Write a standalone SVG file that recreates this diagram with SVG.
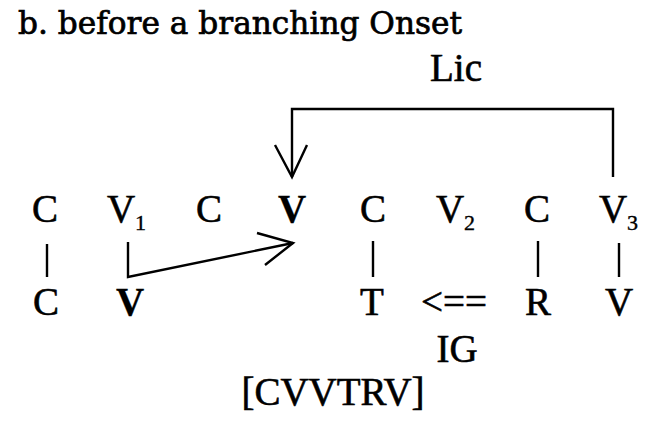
<svg xmlns="http://www.w3.org/2000/svg" width="658" height="440" viewBox="0 0 658 440">
<style>
text { font-family: "Liberation Serif", "Times New Roman", serif; fill: #000; stroke: #000; stroke-width: 0.6; }
.seg { font-size: 39px; text-anchor: middle; }
.b { font-weight: bold; stroke-width: 0.3; }
.sub { font-size: 22px; text-anchor: start; stroke-width: 0.4; }
.title { font-family: "DejaVu Serif", "Liberation Serif", serif; font-size: 31px; stroke-width: 0.7; }
.ln { stroke: #000; stroke-width: 2.4; fill: none; stroke-linecap: butt; stroke-linejoin: miter; }
</style>
<rect width="658" height="440" fill="#fff"/>
<g id="title"><text class="title" x="18" y="34" textLength="444" lengthAdjust="spacingAndGlyphs">b. before a branching Onset</text></g>
<g id="lic-label"><text class="seg" x="456" y="81">Lic</text></g>
<g id="top-C1"><text class="seg" x="45" y="222">C</text></g>
<g id="top-V1"><text class="seg" x="121" y="222">V</text><text class="sub" x="135" y="230">1</text></g>
<g id="top-C2"><text class="seg" x="209" y="222">C</text></g>
<g id="top-V"><text class="seg b" x="292" y="222">V</text></g>
<g id="top-C3"><text class="seg" x="373" y="222">C</text></g>
<g id="top-V2"><text class="seg" x="450" y="222">V</text><text class="sub" x="464" y="230">2</text></g>
<g id="top-C4"><text class="seg" x="537" y="222">C</text></g>
<g id="top-V3"><text class="seg" x="613" y="222">V</text><text class="sub" x="627" y="230">3</text></g>
<g id="bot-C"><text class="seg" x="46" y="315">C</text></g>
<g id="bot-V"><text class="seg b" x="130" y="315">V</text></g>
<g id="bot-T"><text class="seg" x="372" y="315">T</text></g>
<g id="bot-arrow"><text class="seg" x="454" y="315">&lt;==</text></g>
<g id="bot-R"><text class="seg" x="538" y="315">R</text></g>
<g id="bot-V3"><text class="seg" x="619" y="315">V</text></g>
<g id="ig"><text class="seg" x="457" y="362">IG</text></g>
<g id="output"><text class="seg" x="333" y="405">[CVVTRV]</text></g>
<g id="connectors">
<line class="ln" x1="47" y1="244" x2="47" y2="277"/>
<line class="ln" x1="373" y1="241" x2="373" y2="277"/>
<line class="ln" x1="538" y1="241" x2="538" y2="277"/>
<line class="ln" x1="619" y1="243" x2="619" y2="277"/>
<polyline class="ln" points="128,242 128,277 293,243"/>
<polyline class="ln" points="257,233 293,243 265,265"/>
<polyline class="ln" points="613,177 613,109 292,109 292,177"/>
<polyline class="ln" points="275,145 292,177 307,145"/>
</g>
</svg>
